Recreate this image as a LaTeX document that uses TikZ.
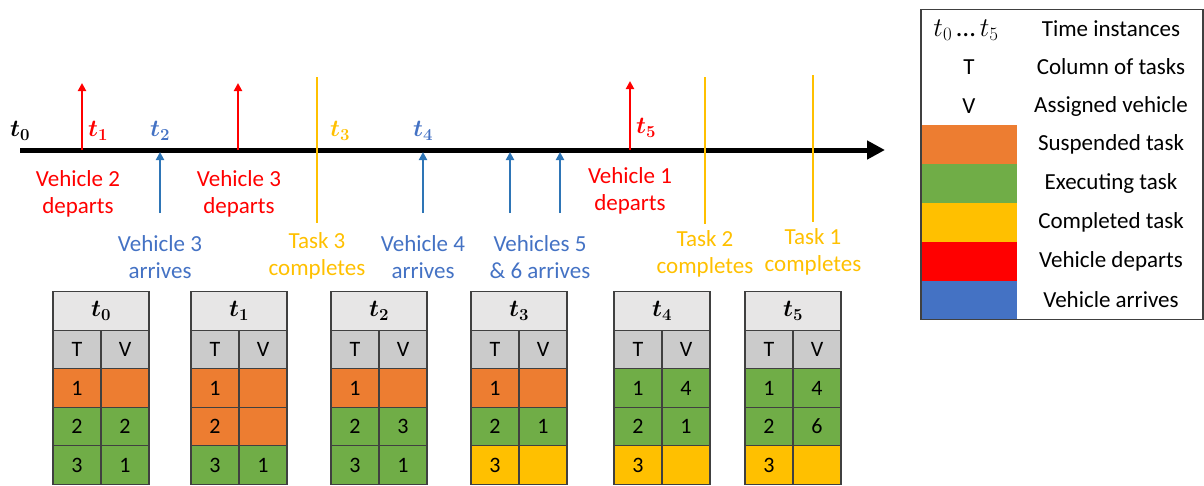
\RequirePackage{fix-cm}
\documentclass[tikz,border=0pt]{standalone}
\usepackage[no-math]{fontspec}
\setmainfont{Carlito}
\usepackage{amsmath}
\usepackage{bm}
\usetikzlibrary{arrows.meta}
\definecolor{orng}{HTML}{ED7D31}
\definecolor{grn}{HTML}{70AD47}
\definecolor{ylw}{HTML}{FFC000}
\definecolor{rd}{HTML}{FF0000}
\definecolor{bltxt}{HTML}{4472C4}
\definecolor{blarr}{HTML}{2E75B6}
\definecolor{hdr}{HTML}{E7E6E6}
\definecolor{tvr}{HTML}{CBCBCB}
\definecolor{brd}{HTML}{404040}
\tikzset{
  timeline/.style={line width=5pt,-{Triangle[length=18pt,width=18pt]}},
  dep/.style={rd,line width=2.2pt,-{Triangle[length=8pt,width=8pt]}},
  arr/.style={blarr,line width=2.2pt,-{Triangle[length=8pt,width=8pt]}},
  compl/.style={ylw,line width=2.2pt},
  lbl/.style={font=\fontsize{23}{27}\selectfont,align=center,inner sep=0pt},
  tlab/.style={font=\fontsize{24}{28}\selectfont,inner sep=0pt},
  cell/.style={draw=brd,line width=1.4pt,minimum width=48pt,minimum height=38.5pt,inner sep=0pt,outer sep=0pt,font=\fontsize{22}{26}\selectfont},
  hcell/.style={cell,fill=hdr,minimum width=96pt,font=\fontsize{24}{28}\selectfont},
  legtxt/.style={font=\fontsize{23}{27}\selectfont,inner sep=0pt},
  sw/.style={minimum width=96pt,minimum height=39pt,inner sep=0pt,outer sep=0pt}
}
% #1 left x, #2 index, #3 color r1, #4 V r1, #5 color r2, #6 V r2, #7 color r3, #8 V r3
\newcommand\tasktable[8]{%
  \node[hcell] (h#2) at ({#1+48},311) {$\bm{t_{#2}}$};
  \node[cell,fill=tvr] (hT#2) at ({#1+24},349.5) {T};
  \node[cell,fill=tvr] (hV#2) at ({#1+72},349.5) {V};
  \node[cell,fill=#3] (aT#2) at ({#1+24},388) {1};
  \node[cell,fill=#3] (aV#2) at ({#1+72},388) {#4};
  \node[cell,fill=#5] (bT#2) at ({#1+24},426.5) {2};
  \node[cell,fill=#5] (bV#2) at ({#1+72},426.5) {#6};
  \node[cell,fill=#7] (cT#2) at ({#1+24},465) {3};
  \node[cell,fill=#7] (cV#2) at ({#1+72},465) {#8};
}
\begin{document}
\begin{tikzpicture}[x=1pt,y=-1pt]
\useasboundingbox (0,0) rectangle (1204,485);
% timeline
\coordinate (ts) at (20,150);
\coordinate (te) at (885,150);
\draw[timeline] (ts) -- (te);
% time labels
\node[tlab] (lt0) at (20,131) {$\bm{t_0}$};
\node[tlab,text=rd] (lt1) at (98,131) {$\bm{t_1}$};
\node[tlab,text=bltxt] (lt2) at (160,131) {$\bm{t_2}$};
\node[tlab,text=ylw] (lt3) at (340,131) {$\bm{t_3}$};
\node[tlab,text=bltxt] (lt4) at (423,131) {$\bm{t_4}$};
\node[tlab,text=rd] (lt5) at (646,128) {$\bm{t_5}$};
% departures
\coordinate (d1a) at (82,150); \coordinate (d1b) at (82,83);
\coordinate (d2a) at (238,150); \coordinate (d2b) at (238,83);
\coordinate (d3a) at (630,150); \coordinate (d3b) at (630,81);
\draw[dep] (d1a) -- (d1b);
\draw[dep] (d2a) -- (d2b);
\draw[dep] (d3a) -- (d3b);
% arrivals
\coordinate (a1a) at (160,213); \coordinate (a1b) at (160,152);
\coordinate (a2a) at (423,213); \coordinate (a2b) at (423,152);
\coordinate (a3a) at (510,213); \coordinate (a3b) at (510,152);
\coordinate (a4a) at (560,213); \coordinate (a4b) at (560,152);
\draw[arr] (a1a) -- (a1b);
\draw[arr] (a2a) -- (a2b);
\draw[arr] (a3a) -- (a3b);
\draw[arr] (a4a) -- (a4b);
% completions
\coordinate (c1a) at (317,77); \coordinate (c1b) at (317,223);
\coordinate (c2a) at (705,77); \coordinate (c2b) at (705,224);
\coordinate (c3a) at (813,75); \coordinate (c3b) at (813,222);
\draw[compl] (c1a) -- (c1b);
\draw[compl] (c2a) -- (c2b);
\draw[compl] (c3a) -- (c3b);
% event labels
\node[lbl,text=rd] (e1) at (78,194) {Vehicle 2\\departs};
\node[lbl,text=bltxt] (e2) at (160,257) {Vehicle 3\\arrives};
\node[lbl,text=rd] (e3) at (239,194) {Vehicle 3\\departs};
\node[lbl,text=ylw] (e4) at (317,256) {Task 3\\completes};
\node[lbl,text=bltxt] (e5) at (423,257) {Vehicle 4\\arrives};
\node[lbl,text=bltxt] (e6) at (540,257) {Vehicles 5\\\& 6 arrives};
\node[lbl,text=rd] (e7) at (630,191) {Vehicle 1\\departs};
\node[lbl,text=ylw] (e8) at (705,254) {Task 2\\completes};
\node[lbl,text=ylw] (e9) at (813,252) {Task 1\\completes};
% tables
\tasktable{53}{0}{orng}{}{grn}{2}{grn}{1}
\tasktable{191}{1}{orng}{}{orng}{}{grn}{1}
\tasktable{331}{2}{orng}{}{grn}{3}{grn}{1}
\tasktable{471}{3}{orng}{}{grn}{1}{ylw}{}
\tasktable{614}{4}{grn}{4}{grn}{1}{ylw}{}
\tasktable{745}{5}{grn}{4}{grn}{6}{ylw}{}
% legend
\node[sw,fill=orng] (s1) at (969,144) {};
\node[sw,fill=grn] (s2) at (969,183) {};
\node[sw,fill=ylw] (s3) at (969,222) {};
\node[sw,fill=rd] (s4) at (969,261) {};
\node[sw,fill=bltxt] (s5) at (969,300) {};
\node[draw=brd,line width=1.3pt,minimum width=282pt,minimum height=310pt,inner sep=0pt] (leg) at (1062,164.5) {};
\node[legtxt,font=\fontsize{27}{30}\selectfont] (k1) at (966,30) {$t_0$\,…\,$t_5$};
\node[legtxt] (k2) at (969,67) {T};
\node[legtxt] (k3) at (969,106) {V};
\node[legtxt] (l1) at (1111,29) {Time instances};
\node[legtxt] (l2) at (1111,67) {Column of tasks};
\node[legtxt] (l3) at (1111,106) {Assigned vehicle};
\node[legtxt] (l4) at (1111,144) {Suspended task};
\node[legtxt] (l5) at (1111,183) {Executing task};
\node[legtxt] (l6) at (1111,222) {Completed task};
\node[legtxt] (l7) at (1111,261) {Vehicle departs};
\node[legtxt] (l8) at (1111,300) {Vehicle arrives};
\end{tikzpicture}
\end{document}
